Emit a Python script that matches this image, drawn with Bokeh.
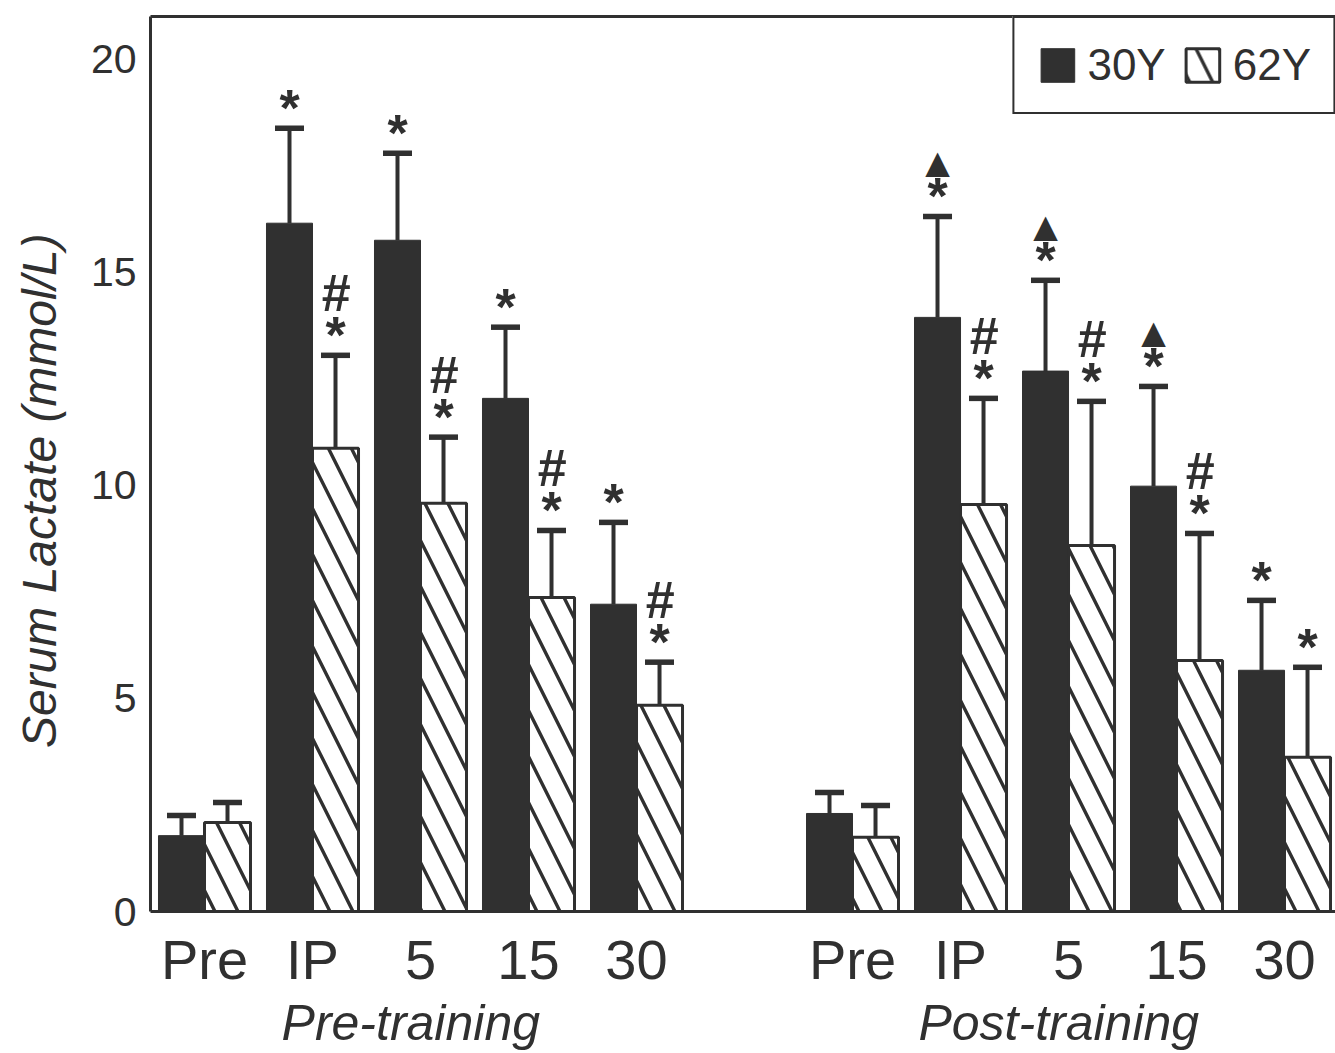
from bokeh.plotting import figure
from bokeh.models import (Range1d, LinearAxis, FixedTicker, ColumnDataSource,
                          Legend, LegendItem)
from bokeh.core.properties import value
from bokeh.embed import file_html
from bokeh.resources import INLINE

# ---------------- data ----------------
timepoints = ["Pre", "IP", "5", "15", "30"]
phases = ["Pre-training", "Post-training"]
slots_pre = [0, 1, 2, 3, 4]
slots_post = [6, 7, 8, 9, 10]

mean_30y_pre = [1.78, 16.15, 15.75, 12.04, 7.21]
sd_30y_pre = [0.47, 2.23, 2.04, 1.67, 1.92]
mean_62y_pre = [2.09, 10.87, 9.58, 7.37, 4.84]
sd_62y_pre = [0.47, 2.18, 1.55, 1.57, 1.01]

mean_30y_post = [2.30, 13.94, 12.68, 9.98, 5.66]
sd_30y_post = [0.49, 2.37, 2.13, 2.34, 1.64]
mean_62y_post = [1.74, 9.55, 8.59, 5.89, 3.62]
sd_62y_post = [0.75, 2.49, 3.38, 2.98, 2.11]

# significance marks: * vs Pre, # vs 30Y, triangle vs pre-training
star_30y = [False, True, True, True, True, False, True, True, True, True]
tri_30y = [False, False, False, False, False, False, True, True, True, False]
star_62y = [False, True, True, True, True, False, True, True, True, True]
hash_62y = [False, True, True, True, True, False, True, True, True, False]

y_ticks = [0, 5, 10, 15, 20]

# ---------------- style ----------------
DARK = "#303030"
FONT = "Liberation Sans"
BAR_W = 0.426
OFF = BAR_W / 2

slots = slots_pre + slots_post
m30 = mean_30y_pre + mean_30y_post
s30 = sd_30y_pre + sd_30y_post
m62 = mean_62y_pre + mean_62y_post
s62 = sd_62y_pre + sd_62y_post

src30 = ColumnDataSource(dict(
    x=[s - OFF for s in slots], top=m30,
    upper=[m + s for m, s in zip(m30, s30)]))
src62 = ColumnDataSource(dict(
    x=[s + OFF for s in slots], top=m62,
    upper=[m + s for m, s in zip(m62, s62)]))

p = figure(width=1335, height=1053, output_backend="svg", toolbar_location=None,
           x_range=Range1d(-0.5, 10.472), y_range=Range1d(0, 21.0),
           min_border_left=150, min_border_right=0, min_border_top=16,
           min_border_bottom=142)
p.extra_x_ranges = {"grp": Range1d(-0.41, 10.562)}
p.outline_line_color = None
p.xgrid.grid_line_color = None
p.ygrid.grid_line_color = None
p.background_fill_color = "white"
p.border_fill_color = "white"

r30 = p.vbar(x="x", top="top", width=BAR_W, source=src30,
             fill_color=DARK, line_color=DARK, line_width=1)
r62 = p.vbar(x="x", top="top", width=BAR_W, source=src62,
             fill_color="white", line_color=DARK, line_width=3,
             hatch_pattern="left_diagonal_line", hatch_color=DARK,
             hatch_weight=3.4, hatch_scale=46)

for src in (src30, src62):
    p.segment(x0="x", y0="top", x1="x", y1="upper", source=src,
              line_color=DARK, line_width=4)
    p.scatter(x="x", y="upper", source=src, marker="dash", size=29,
              line_color=DARK, line_width=5.5)

# significance symbols
def sel(src, flags):
    d = src.data
    return dict(x=[x for x, f in zip(d["x"], flags) if f],
                y=[u for u, f in zip(d["upper"], flags) if f])

st30 = sel(src30, star_30y)
st62 = sel(src62, star_62y)
h62 = sel(src62, hash_62y)
t30 = sel(src30, tri_30y)

p.text(x=st30["x"] + st62["x"], y=st30["y"] + st62["y"],
       text=["*"] * (len(st30["x"]) + len(st62["x"])),
       text_font=value(FONT), text_font_style="bold", text_font_size="52px",
       text_color=DARK, text_align="center", text_baseline="alphabetic", y_offset=-20)
p.text(x=h62["x"], y=h62["y"], text=["#"] * len(h62["x"]),
       text_font=value(FONT), text_font_style="bold italic", text_font_size="52px",
       text_color=DARK, text_align="center", text_baseline="alphabetic", y_offset=-62)
p.text(x=t30["x"], y=t30["y"], text=["\u25B2"] * len(t30["x"]),
       text_font=value("DejaVu Sans"), text_font_size="32px",
       text_color=DARK, text_align="center", text_baseline="alphabetic", y_offset=-54)

# axes
xa = p.xaxis[0]
xa.ticker = FixedTicker(ticks=slots)
xa.major_label_overrides = {s: t for s, t in zip(slots, timepoints + timepoints)}
xa.major_label_text_font = FONT
xa.major_label_text_font_size = "56px"
xa.major_label_text_color = DARK
xa.major_tick_out = 0
xa.major_tick_in = 0
xa.minor_tick_out = 0
xa.minor_tick_in = 0
xa.axis_line_width = 3
xa.axis_line_color = DARK
xa.major_label_standoff = 16

ya = p.yaxis[0]
ya.ticker = FixedTicker(ticks=y_ticks)
ya.major_label_text_font = FONT
ya.major_label_text_font_size = "41px"
ya.major_label_text_color = DARK
ya.major_tick_out = 0
ya.major_tick_in = 0
ya.minor_tick_out = 0
ya.minor_tick_in = 0
ya.axis_line_width = 3
ya.axis_line_color = DARK
ya.major_label_standoff = 14
ya.axis_label = "Serum Lactate (mmol/L)" + "\u00a0" * 4
ya.axis_label_text_font = FONT
ya.axis_label_text_font_style = "italic"
ya.axis_label_text_font_size = "48px"
ya.axis_label_text_color = DARK
ya.axis_label_standoff = 22

top_axis = LinearAxis(ticker=FixedTicker(ticks=[]), axis_line_width=3,
                      axis_line_color=DARK, major_label_text_font_size="0px",
                      major_tick_out=0, major_tick_in=0, minor_tick_out=0,
                      minor_tick_in=0, major_label_standoff=0)
p.add_layout(top_axis, "above")

grp_axis = LinearAxis(x_range_name="grp", ticker=FixedTicker(ticks=[2, 8]),
                      major_label_overrides={2: phases[0], 8: phases[1]},
                      axis_line_color=None, major_tick_out=0, major_tick_in=0,
                      minor_tick_out=0, minor_tick_in=0,
                      major_label_text_font=FONT, major_label_text_font_style="italic",
                      major_label_text_font_size="50px", major_label_text_color=DARK,
                      major_label_standoff=1)
p.add_layout(grp_axis, "below")

legend = Legend(items=[LegendItem(label="30Y", renderers=[r30]),
                       LegendItem(label="62Y", renderers=[r62])],
                orientation="horizontal", location="top_right", margin=0,
                padding=22, spacing=16, glyph_width=42, glyph_height=42,
                label_standoff=9, label_text_font=FONT,
                label_text_font_size="44px", label_text_color=DARK,
                border_line_color=DARK, border_line_width=2.5, border_line_alpha=1.0,
                background_fill_color="white", background_fill_alpha=1.0)
p.add_layout(legend)

open("out.html", "w").write(file_html(p, INLINE))
